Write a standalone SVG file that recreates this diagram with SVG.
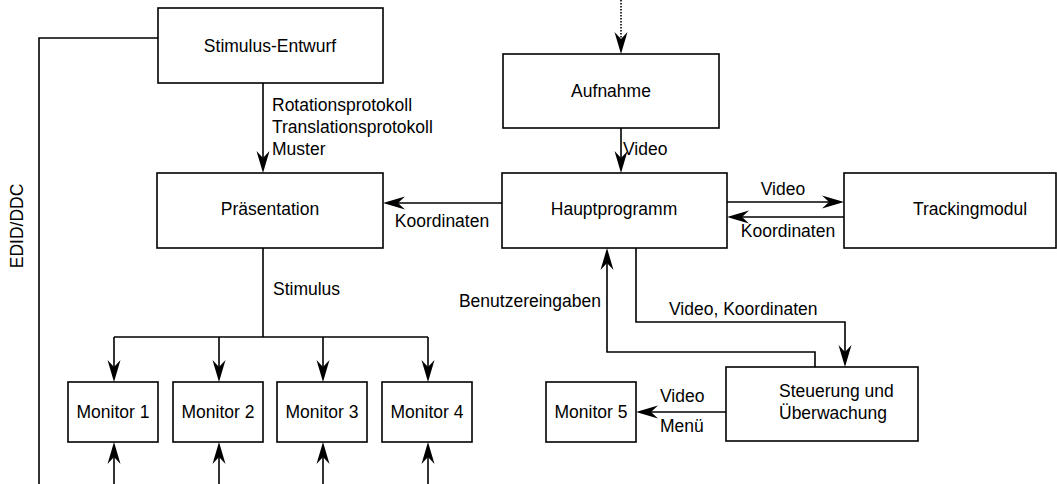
<svg xmlns="http://www.w3.org/2000/svg" xmlns:xlink="http://www.w3.org/1999/xlink" width="1057" height="484" viewBox="0 0 1057 484">
  <style>
    .box { fill: #ffffff; stroke: #000000; stroke-width: 1.6; }
    .edge { fill: none; stroke: #000000; stroke-width: 1.6; }
    .dotted { stroke-dasharray: 1.5 1.5; }
    .head { fill: #000000; }
    .lbl { font-family: "Liberation Sans", Arial, sans-serif; font-size: 17.5px; fill: #000000; }
    .mid { text-anchor: middle; }
    .end { text-anchor: end; }
  </style>
  <defs>
    <!-- arrowhead pointing right, tip at the origin -->
    <path id="ah" class="head" d="M0,0 L-22,-6.5 L-15,0 L-22,6.5 Z"/>
  </defs>
  <rect width="1057" height="484" fill="#ffffff"/>

  <!-- connectors -->
  <g id="connectors">
    <path class="edge" d="M263,83 V160"/>
    <use xlink:href="#ah" href="#ah" transform="translate(263,173) rotate(90)"/>
    <path class="edge" d="M158,38 H39 V484"/>
    <path class="edge dotted" d="M621,0 V42"/>
    <use xlink:href="#ah" href="#ah" transform="translate(621,54) rotate(90)"/>
    <path class="edge" d="M621,128 V160"/>
    <use xlink:href="#ah" href="#ah" transform="translate(621,173) rotate(90)"/>
    <path class="edge" d="M502,203 H396"/>
    <use xlink:href="#ah" href="#ah" transform="translate(383,203) rotate(180)"/>
    <path class="edge" d="M727,202 H831"/>
    <use xlink:href="#ah" href="#ah" transform="translate(844,202)"/>
    <path class="edge" d="M844,217 H740"/>
    <use xlink:href="#ah" href="#ah" transform="translate(727,217) rotate(180)"/>
    <path class="edge" d="M263,248 V337"/>
    <path class="edge" d="M114,337 H428"/>
    <path class="edge" d="M114,337 V370"/>
    <path class="edge" d="M219,337 V370"/>
    <path class="edge" d="M323,337 V370"/>
    <path class="edge" d="M428,337 V370"/>
    <use xlink:href="#ah" href="#ah" transform="translate(114,382) rotate(90)"/>
    <use xlink:href="#ah" href="#ah" transform="translate(219,382) rotate(90)"/>
    <use xlink:href="#ah" href="#ah" transform="translate(323,382) rotate(90)"/>
    <use xlink:href="#ah" href="#ah" transform="translate(428,382) rotate(90)"/>
    <path class="edge" d="M114,484 V455"/>
    <path class="edge" d="M219,484 V455"/>
    <path class="edge" d="M323,484 V455"/>
    <path class="edge" d="M428,484 V455"/>
    <use xlink:href="#ah" href="#ah" transform="translate(114,442) rotate(-90)"/>
    <use xlink:href="#ah" href="#ah" transform="translate(219,442) rotate(-90)"/>
    <use xlink:href="#ah" href="#ah" transform="translate(323,442) rotate(-90)"/>
    <use xlink:href="#ah" href="#ah" transform="translate(428,442) rotate(-90)"/>
    <path class="edge" d="M636,248 V322 H845 V355"/>
    <use xlink:href="#ah" href="#ah" transform="translate(845,367) rotate(90)"/>
    <path class="edge" d="M815,367 V352 H607 V261"/>
    <use xlink:href="#ah" href="#ah" transform="translate(607,248) rotate(-90)"/>
    <path class="edge" d="M726,412 H649"/>
    <use xlink:href="#ah" href="#ah" transform="translate(636,412) rotate(180)"/>
  </g>

  <!-- connector labels -->
  <g id="edge-labels">
    <text class="lbl" x="272" y="111">Rotationsprotokoll</text>
    <text class="lbl" x="272" y="133">Translationsprotokoll</text>
    <text class="lbl" x="272" y="155">Muster</text>
    <text class="lbl" x="623" y="155">Video</text>
    <text class="lbl mid" x="442" y="227">Koordinaten</text>
    <text class="lbl mid" x="783" y="195">Video</text>
    <text class="lbl mid" x="788" y="237">Koordinaten</text>
    <text class="lbl" x="273" y="295">Stimulus</text>
    <text class="lbl end" x="601" y="307">Benutzereingaben</text>
    <text class="lbl" x="669" y="315">Video, Koordinaten</text>
    <text class="lbl" x="660" y="402">Video</text>
    <text class="lbl" x="660" y="432">Menü</text>
    <text class="lbl mid" transform="translate(23,226) rotate(-90)">EDID/DDC</text>
  </g>

  <!-- nodes -->
  <g id="stimulus-entwurf">
    <rect class="box" x="158" y="8" width="225" height="75"/>
    <text class="lbl mid" x="270" y="52">Stimulus-Entwurf</text>
  </g>
  <g id="aufnahme">
    <rect class="box" x="503" y="54" width="216" height="74"/>
    <text class="lbl mid" x="611" y="97">Aufnahme</text>
  </g>
  <g id="praesentation">
    <rect class="box" x="157" y="173" width="226" height="75"/>
    <text class="lbl mid" x="270" y="215">Präsentation</text>
  </g>
  <g id="hauptprogramm">
    <rect class="box" x="502" y="173" width="225" height="75"/>
    <text class="lbl mid" x="614" y="215">Hauptprogramm</text>
  </g>
  <g id="trackingmodul">
    <rect class="box" x="844" y="173" width="212" height="75"/>
    <text class="lbl mid" x="970" y="215">Trackingmodul</text>
  </g>
  <g id="monitor-1">
    <rect class="box" x="68" y="382" width="90" height="60"/>
    <text class="lbl mid" x="113" y="418">Monitor 1</text>
  </g>
  <g id="monitor-2">
    <rect class="box" x="173" y="382" width="90" height="60"/>
    <text class="lbl mid" x="218" y="418">Monitor 2</text>
  </g>
  <g id="monitor-3">
    <rect class="box" x="277" y="382" width="90" height="60"/>
    <text class="lbl mid" x="322" y="418">Monitor 3</text>
  </g>
  <g id="monitor-4">
    <rect class="box" x="382" y="382" width="90" height="60"/>
    <text class="lbl mid" x="427" y="418">Monitor 4</text>
  </g>
  <g id="monitor-5">
    <rect class="box" x="546" y="382" width="90" height="60"/>
    <text class="lbl mid" x="591" y="418">Monitor 5</text>
  </g>
  <g id="steuerung">
    <rect class="box" x="726" y="367" width="192" height="74"/>
    <text class="lbl" x="779" y="397">Steuerung und</text>
    <text class="lbl" x="779" y="419">Überwachung</text>
  </g>
</svg>
